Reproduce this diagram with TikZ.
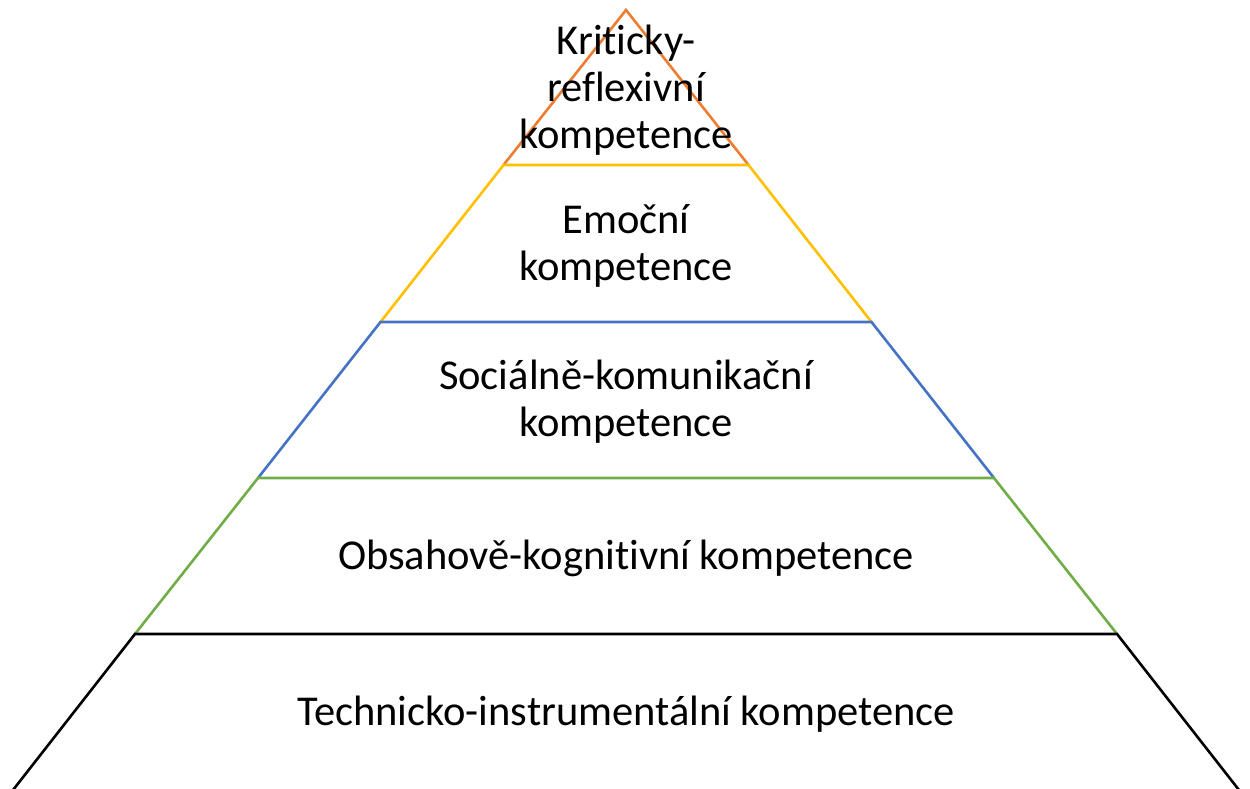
\documentclass[tikz,border=0pt]{standalone}
\usepackage{fontspec}
\setmainfont[Ligatures=NoCommon]{Carlito}
\definecolor{tierorange}{HTML}{ED7D31}
\definecolor{tieryellow}{HTML}{FFC000}
\definecolor{tierblue}{HTML}{4472C4}
\definecolor{tiergreen}{HTML}{70AD47}
\begin{document}
\begin{tikzpicture}[x=1pt,y=-1pt,
  tier/.style={line width=2.6pt,line join=miter},
  label/.style={align=center,inner sep=0pt,font=\fontsize{42.5}{47}\selectfont}]
\useasboundingbox (0,0) rectangle (1250,789);
% apex and corner points of each level
\coordinate (apex) at (626,10);
\coordinate (L1) at (503.5,165);  \coordinate (R1) at (748.5,165);
\coordinate (L2) at (380.5,322);  \coordinate (R2) at (871.5,322);
\coordinate (L3) at (258,478);    \coordinate (R3) at (994,478);
\coordinate (L4) at (135,634);    \coordinate (R4) at (1117,634);
\coordinate (L5) at (5.2,800);    \coordinate (R5) at (1246.8,800);
% bands, each with its own top edge and sides
\draw[tier,tierorange] (L1) -- (apex) -- (R1);
\draw[tier,tieryellow] (L2) -- (L1) -- (R1) -- (R2);
\draw[tier,tierblue]   (L3) -- (L2) -- (R2) -- (R3);
\draw[tier,tiergreen]  (L4) -- (L3) -- (R3) -- (R4);
\draw[tier,black]      (L5) -- (L4) -- (R4) -- (R5);
% labels
\node[label] (t1) at (626,90)  {Kriticky-\\reflexivní\\kompetence};
\node[label] (t2) at (626,246) {Emoční\\kompetence};
\node[label] (t3) at (626,402) {Sociálně-komunikační\\kompetence};
\node[label] (t4) at (626,558) {Obsahově-kognitivní kompetence};
\node[label] (t5) at (626,714) {Technicko-instrumentální kompetence};
\end{tikzpicture}
\end{document}
